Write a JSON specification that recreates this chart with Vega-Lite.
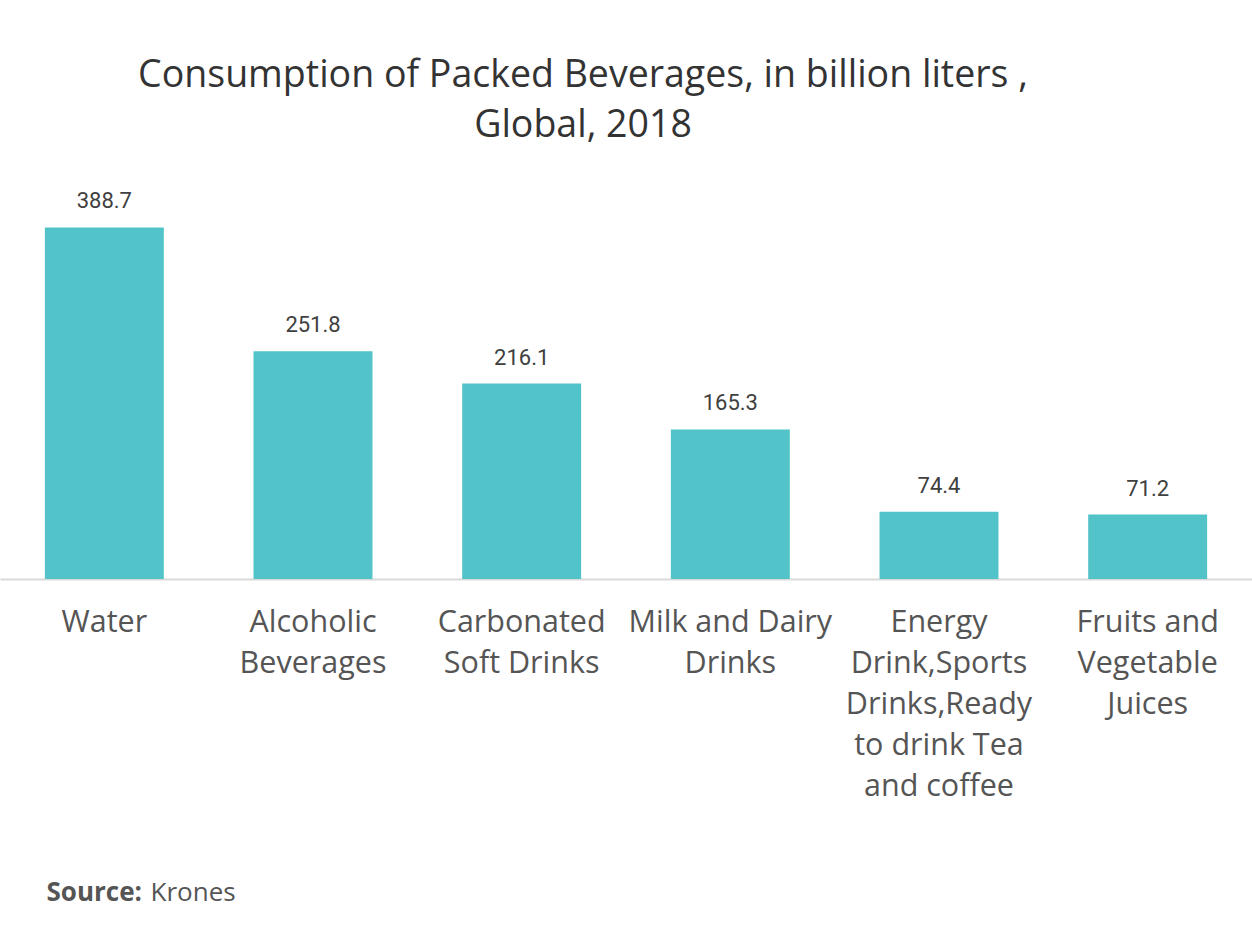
{
  "$schema": "https://vega.github.io/schema/vega-lite/v6.json",
  "width": 1252,
  "height": 407,
  "autosize": {"type": "none"},
  "padding": {"left": 0, "top": 172, "right": 0, "bottom": 349},
  "background": "white",
  "title": {
    "text": ["Consumption of Packed Beverages, in billion liters ,", "Global, 2018"],
    "font": "Open Sans",
    "fontSize": 37.5,
    "fontWeight": "normal",
    "color": "#333333",
    "lineHeight": 50,
    "anchor": "middle",
    "dx": -43,
    "offset": 28
  },
  "data": {
    "values": [
      {"category": "Water", "value": 388.7},
      {"category": "Alcoholic Beverages", "value": 251.8},
      {"category": "Carbonated Soft Drinks", "value": 216.1},
      {"category": "Milk and Dairy Drinks", "value": 165.3},
      {"category": "Energy Drink,Sports Drinks,Ready to drink Tea and coffee", "value": 74.4},
      {"category": "Fruits and Vegetable Juices", "value": 71.2}
    ]
  },
  "encoding": {
    "x": {
      "field": "category",
      "type": "nominal",
      "sort": null,
      "scale": {"paddingInner": 0.43, "paddingOuter": 0.215},
      "axis": {
        "title": "Krones",
        "titleFont": "Open Sans",
        "titleFontSize": 26,
        "titleFontWeight": "normal",
        "titleColor": "#555555",
        "titleX": 150,
        "titleY": 313,
        "titleAlign": "left",
        "titleBaseline": "middle",
        "labelAngle": 0,
        "labelFont": "Open Sans",
        "labelFontSize": 30.5,
        "labelColor": "#555555",
        "labelLineHeight": 41,
        "labelPadding": 28,
        "labelLimit": 300,
        "ticks": false,
        "domainColor": "#d9d9d9",
        "domainWidth": 2,
        "labelExpr": "{'Water':['Water'],'Alcoholic Beverages':['Alcoholic','Beverages'],'Carbonated Soft Drinks':['Carbonated','Soft Drinks'],'Milk and Dairy Drinks':['Milk and Dairy','Drinks'],'Energy Drink,Sports Drinks,Ready to drink Tea and coffee':['Energy','Drink,Sports','Drinks,Ready','to drink Tea','and coffee'],'Fruits and Vegetable Juices':['Fruits and','Vegetable','Juices']}[datum.label]"
      }
    },
    "y": {
      "field": "value",
      "type": "quantitative",
      "scale": {"domain": [0, 450]},
      "axis": {
        "title": "Source:",
        "titleFont": "Open Sans",
        "titleFontSize": 26,
        "titleFontWeight": "bold",
        "titleColor": "#555555",
        "titleAngle": 0,
        "titleX": 46,
        "titleY": 720,
        "titleAlign": "left",
        "titleBaseline": "middle",
        "labels": false,
        "ticks": false,
        "domain": false,
        "grid": false
      }
    }
  },
  "layer": [
    {"mark": {"type": "bar", "color": "#52c3c9"}},
    {
      "mark": {"type": "text", "baseline": "bottom", "dy": -14, "font": "Roboto", "fontSize": 22, "color": "#404040"},
      "encoding": {"text": {"field": "value", "type": "quantitative", "format": ".1f"}}
    }
  ],
  "config": {"view": {"stroke": null}}
}
